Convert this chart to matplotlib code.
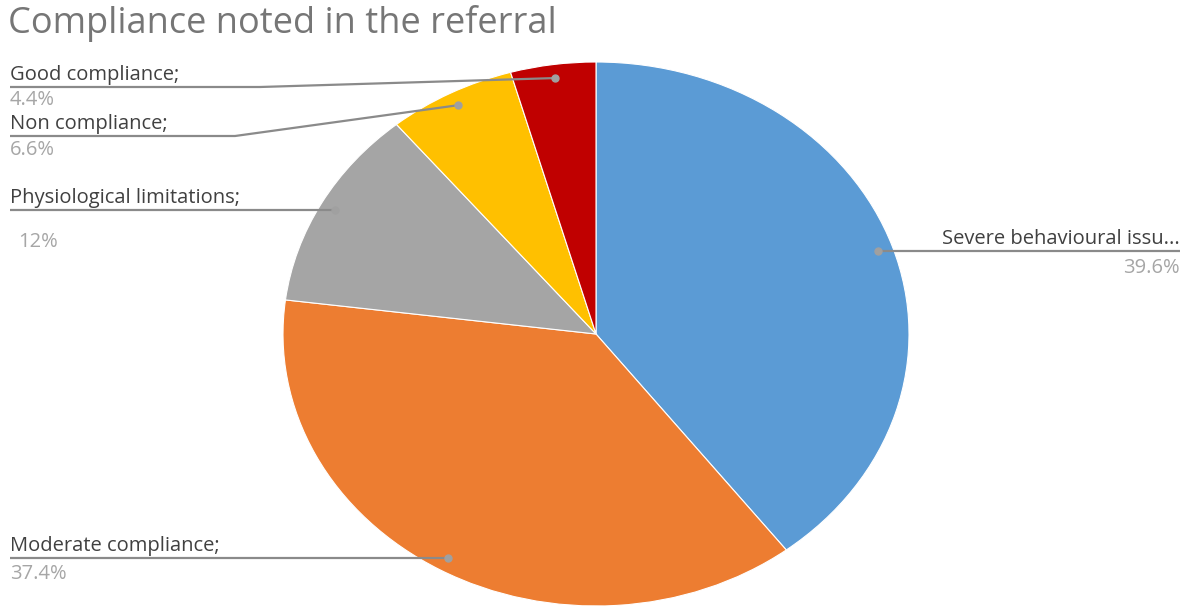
import numpy as np
import matplotlib.pyplot as plt

labels = ["Severe behavioural issu...", "Moderate compliance;", "Physiological limitations;",
          "Non compliance;", "Good compliance;"]
pct_text = ["39.6%", "37.4%", "12%", "6.6%", "4.4%"]
values = [39.6, 37.4, 12.0, 6.6, 4.4]
colors = ["#5b9bd5", "#ed7d31", "#a5a5a5", "#ffc000", "#c00000"]

W, H = 1189, 607
fig = plt.figure(figsize=(W / 100, H / 100), dpi=100)

# pie axes, stretched (aspect auto) so the pie is a wide ellipse
ax = fig.add_axes([283 / W, 1 / H, 626 / W, 544 / H])
ax.pie(values, colors=colors, startangle=90, counterclock=False, radius=1,
       wedgeprops=dict(edgecolor="white", linewidth=0.8))
ax.set_aspect("auto")
ax.set_xlim(-1, 1)
ax.set_ylim(-1, 1)
ax.axis("off")

# overlay in pixel coords for labels and leader lines
ov = fig.add_axes([0, 0, 1, 1], zorder=5)
ov.set_xlim(0, W)
ov.set_ylim(H, 0)
ov.axis("off")
ov.patch.set_alpha(0)

fig.text(8 / W, 1 - 23 / H, "Compliance noted in the referral", fontsize=26,
         color="#767676", family="Open Sans", va="center", ha="left")

fig.canvas.draw()

def dot_px(i):
    start = sum(values[:i])
    mid = (start + values[i] / 2) / 100 * 2 * np.pi
    x, y = 0.95 * np.sin(mid), 0.95 * np.cos(mid)
    px, py = ax.transData.transform((x, y))
    return px, H - py

line_c = "#8a8a8a"
dot_c = "#a0a0a0"
name_c = "#404040"
pct_c = "#a6a6a6"
fs = 14.5

layout = {
    0: dict(ly=None, x0=1180, bend=None, ha="right", tx=1180, py=268),
    1: dict(ly=None, x0=10, bend=None, ha="left", tx=10, py=574),
    2: dict(ly=210, x0=10, bend=None, ha="left", tx=18, py=242),
    3: dict(ly=136, x0=10, bend=235, ha="left", tx=10, py=150),
    4: dict(ly=87, x0=10, bend=260, ha="left", tx=10, py=100),
}

for i in range(len(values)):
    dx, dy = dot_px(i)
    L = layout[i]
    if L["ly"] is None:
        L["ly"] = dy
    if L["bend"] is None:
        xs, ys = [L["x0"], dx], [L["ly"], L["ly"]]
    else:
        xs, ys = [L["x0"], L["bend"], dx], [L["ly"], L["ly"], dy]
    ov.plot(xs, ys, color=line_c, lw=1.6, solid_capstyle="butt")
    ov.plot([dx], [dy], "o", color=dot_c, ms=5)
    ov.text(L["x0"], L["ly"] - 2, labels[i], fontsize=fs, color=name_c,
            family="Open Sans", ha=L["ha"], va="bottom")
    ov.text(L["tx"], L["py"], pct_text[i], fontsize=fs, color=pct_c,
            family="Open Sans", ha=L["ha"], va="center")

fig.savefig("out.png", dpi=100, facecolor="white")
